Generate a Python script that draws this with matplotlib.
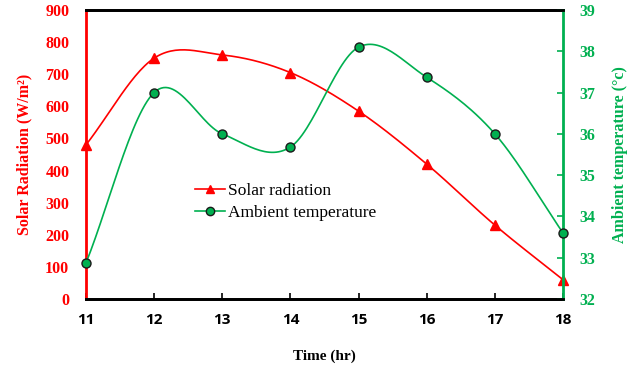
import numpy as np
import matplotlib
matplotlib.use("Agg")
import matplotlib.pyplot as plt
from matplotlib.lines import Line2D

hours = [11, 12, 13, 14, 15, 16, 17, 18]
solar = [480, 750, 760, 705, 585, 420, 230, 60]
temp = [32.87, 37.0, 36.0, 35.68, 38.1, 37.37, 36.0, 33.6]

RED = "#FF0000"
GREEN = "#00B050"


def smooth(x, y, n=30):
    # Catmull-Rom style curve through the points (like spreadsheet smoothed lines)
    x = np.asarray(x, float)
    y = np.asarray(y, float)
    px = np.concatenate(([2 * x[0] - x[1]], x, [2 * x[-1] - x[-2]]))
    py = np.concatenate(([2 * y[0] - y[1]], y, [2 * y[-1] - y[-2]]))
    xs, ys = [], []
    t = np.linspace(0, 1, n)
    for i in range(1, len(px) - 2):
        for p, out in ((px, xs), (py, ys)):
            p0, p1, p2, p3 = p[i - 1], p[i], p[i + 1], p[i + 2]
            out.append(0.5 * ((2 * p1) + (-p0 + p2) * t
                              + (2 * p0 - 5 * p1 + 4 * p2 - p3) * t ** 2
                              + (-p0 + 3 * p1 - 3 * p2 + p3) * t ** 3))
    return np.concatenate(xs), np.concatenate(ys)


serif = "Liberation Serif"
fig = plt.figure(figsize=(6.35, 3.7), dpi=100)
ax = fig.add_axes([0.1354, 0.192, 0.7512, 0.781])
ax2 = ax.twinx()

sx, sy = smooth(hours, solar)
ax.plot(sx, sy, color=RED, lw=1.2, zorder=3)
ax.plot(hours, solar, ls="none", marker="^", ms=7, color=RED, clip_on=False, zorder=4)

tx, ty = smooth(hours, temp)
ax2.plot(tx, ty, color=GREEN, lw=1.2, zorder=3)
ax2.plot(hours, temp, ls="none", marker="o", ms=6.5, mfc=GREEN, mec="#1a1a1a",
         mew=1.0, clip_on=False, zorder=4)

ax.set_xlim(11, 18)
ax.set_ylim(0, 900)
ax.set_yticks(range(0, 901, 100))
ax2.set_ylim(32, 39)
ax2.set_yticks(range(32, 40))

ax.spines["left"].set_color(RED)
ax.spines["left"].set_linewidth(2)
ax2.spines["left"].set_visible(False)
ax2.spines["right"].set_color(GREEN)
ax2.spines["right"].set_linewidth(2)
ax.spines["right"].set_visible(False)
for a in (ax, ax2):
    a.spines["top"].set_linewidth(2)
    a.spines["bottom"].set_linewidth(2)

ax.set_xticks(hours)
ax.tick_params(axis="x", direction="in", length=4, width=1.2, pad=10)
for lab in ax.get_xticklabels():
    lab.set_fontfamily("Open Sans")
    lab.set_fontweight("bold")
    lab.set_fontsize(11)

ax.tick_params(axis="y", direction="in", length=0, colors=RED, pad=12)
for lab in ax.get_yticklabels():
    lab.set_fontfamily(serif)
    lab.set_fontweight("bold")
    lab.set_fontsize(11.5)
ax2.tick_params(axis="y", direction="in", length=4, width=1.2, colors=GREEN, pad=12)
for lab in ax2.get_yticklabels():
    lab.set_fontfamily(serif)
    lab.set_fontweight("bold")
    lab.set_fontsize(11.5)

ax.set_xlabel("Time (hr)", fontfamily=serif, fontweight="bold", fontsize=11, labelpad=16)
ax.set_ylabel("Solar Radiation (W/m²)", fontfamily=serif, fontweight="bold",
              fontsize=11.5, color=RED, labelpad=9)
ax2.set_ylabel("Ambient temperature (°c)", fontfamily=serif, fontweight="bold",
               fontsize=11.5, color=GREEN, labelpad=12)

handles = [
    Line2D([], [], color=RED, marker="^", ms=6, lw=1.2),
    Line2D([], [], color=GREEN, marker="o", ms=6, mfc=GREEN, mec="#1a1a1a", lw=1.2),
]
ax2.legend(handles, ["Solar radiation", "Ambient temperature"], loc="upper left",
           bbox_to_anchor=(0.215, 0.425), frameon=False, handlelength=1.7,
           handletextpad=0.15, labelspacing=0.35, borderaxespad=0,
           prop={"family": serif, "size": 12.5})

fig.savefig("out.png", dpi=100)
